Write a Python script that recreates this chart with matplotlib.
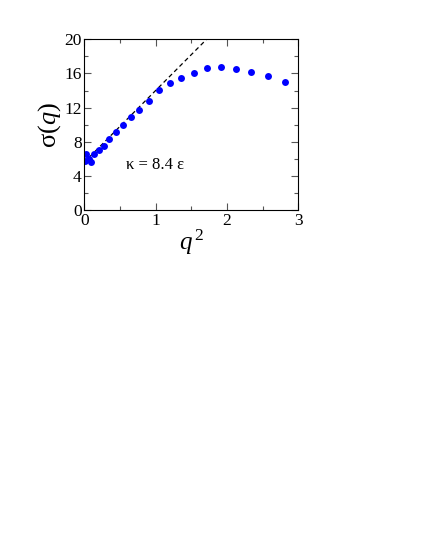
import matplotlib
matplotlib.use("Agg")
import matplotlib.pyplot as plt
from matplotlib.ticker import MultipleLocator

plt.rcParams["font.family"] = ["Liberation Serif", "DejaVu Serif"]
plt.rcParams["mathtext.fontset"] = "custom"
plt.rcParams["mathtext.rm"] = "Liberation Serif"
plt.rcParams["mathtext.it"] = "Liberation Serif:italic"

# data
q2 = [0.01, 0.03, 0.06, 0.09, 0.136, 0.20, 0.27, 0.35, 0.44, 0.54, 0.65, 0.77,
      0.91, 1.05, 1.20, 1.36, 1.54, 1.72, 1.92, 2.13, 2.34, 2.57, 2.81]
sigma = [5.75, 6.55, 6.0, 5.65, 6.6, 7.07, 7.5, 8.28, 9.14, 10.0, 10.86, 11.72,
         12.8, 14.06, 14.88, 15.47, 16.05, 16.6, 16.76, 16.56, 16.17, 15.7, 15.04]

fit_x = [0.0, 1.72]
sigma0 = 5.6
kappa = 8.4
fit_y = [sigma0 + kappa * x for x in fit_x]

fig = plt.figure(figsize=(4.25, 5.5), dpi=100)
ax = fig.add_axes([84.3 / 425, 1 - 210 / 550, 214 / 425, 170.7 / 550])

ax.plot(fit_x, fit_y, color="black", linestyle=(0, (3.5, 2.5)), linewidth=0.9)
ax.plot(q2, sigma, "o", color="#0000ff", markersize=5, markeredgewidth=0)

ax.set_xlim(0, 3)
ax.set_ylim(0, 20)
ax.xaxis.set_major_locator(MultipleLocator(1))
ax.xaxis.set_minor_locator(MultipleLocator(0.5))
ax.yaxis.set_major_locator(MultipleLocator(4))
ax.yaxis.set_minor_locator(MultipleLocator(2))
ax.tick_params(which="both", direction="in", top=True, right=True,
               labelsize=12.5, color="#555555", pad=2)
ax.tick_params(which="major", length=5, width=0.8)
ax.tick_params(which="minor", length=3, width=0.8)
for s in ax.spines.values():
    s.set_linewidth(0.8)

ax.set_xlabel(r"$q^{\,2}$", fontsize=18, labelpad=-1)
ax.set_ylabel(r"σ($q$)", fontsize=19, labelpad=1)
ax.text(0.59, 5.3, "κ = 8.4 ε", fontsize=12, va="center", ha="left")

fig.savefig("out.png", dpi=100)
